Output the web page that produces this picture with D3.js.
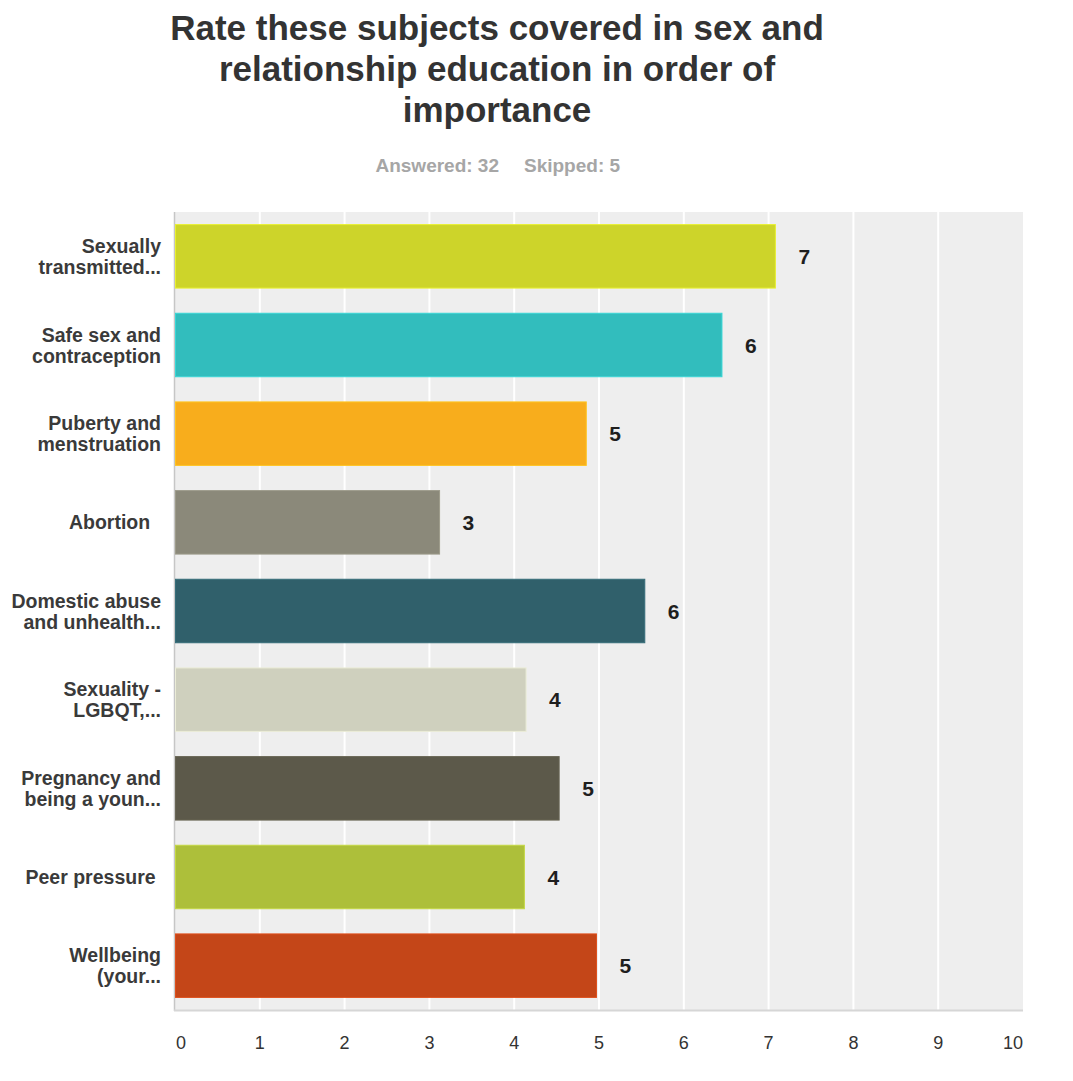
<!DOCTYPE html>
<html>
<head>
<meta charset="utf-8">
<script src="https://cdn.jsdelivr.net/npm/d3@7/dist/d3.min.js"></script>
<style>
  html, body { margin: 0; padding: 0; background: #fff; }
  svg { display: block; font-family: "Liberation Sans", Arial, sans-serif; }
  text { white-space: pre; }
</style>
</head>
<body>
<svg id="chart" width="1073" height="1081"></svg>
<script>
// Survey subjects, each split into the lines of its axis label
const categories = [
  ["Sexually", "transmitted..."],
  ["Safe sex and", "contraception"],
  ["Puberty and", "menstruation"],
  ["Abortion  "],
  ["Domestic abuse", "and unhealth..."],
  ["Sexuality -", "LGBQT,..."],
  ["Pregnancy and", "being a youn..."],
  ["Peer pressure "],
  ["Wellbeing", "(your..."]
];

// Average ranking score per subject
const scores = [7.08, 6.45, 4.85, 3.12, 5.54, 4.14, 4.53, 4.12, 4.97];

// One colour per subject
const barColors = ["#cdd42a", "#32bdbd", "#f8ad1c", "#8b897a", "#30606b",
                   "#cfd0be", "#5c594a", "#adbf3a", "#c44618"];

// Axis tick values
const tickValues = [0, 1, 2, 3, 4, 5, 6, 7, 8, 9, 10];

const titleLines = [
  "Rate these subjects covered in sex and",
  "relationship education in order of",
  "importance"
];
const answered = "Answered: 32";
const skipped = "Skipped: 5";

const svg = d3.select("#chart");

const plot = { left: 175, right: 1023, top: 212, bottom: 1010 };

const x = d3.scaleLinear().domain([0, 10]).range([plot.left, plot.right]);
const y = d3.scaleBand()
  .domain(d3.range(categories.length))
  .range([plot.top, plot.bottom])
  .paddingInner(0.284)
  .paddingOuter(0.142);

// Title
const cx = 497;
svg.append("g")
  .selectAll("text")
  .data(titleLines)
  .join("text")
  .attr("x", cx)
  .attr("y", (d, i) => 40 + i * 41)
  .attr("text-anchor", "middle")
  .attr("font-size", 35)
  .attr("font-weight", "bold")
  .attr("fill", "#333333")
  .text(d => d);

// Response counts
const counts = svg.append("g")
  .attr("font-size", 19)
  .attr("font-weight", "bold")
  .attr("fill", "#a6a6a6");
counts.append("text").attr("x", 499).attr("y", 172).attr("text-anchor", "end").text(answered);
counts.append("text").attr("x", 524).attr("y", 172).attr("text-anchor", "start").text(skipped);

// Plot background
svg.append("rect")
  .attr("x", plot.left)
  .attr("y", plot.top)
  .attr("width", plot.right - plot.left)
  .attr("height", plot.bottom - plot.top)
  .attr("fill", "#eeeeee");

// Vertical gridlines
svg.append("g")
  .selectAll("line")
  .data(tickValues.filter(v => v > 0 && v < 10))
  .join("line")
  .attr("x1", d => x(d))
  .attr("x2", d => x(d))
  .attr("y1", plot.top)
  .attr("y2", plot.bottom)
  .attr("stroke", "#ffffff")
  .attr("stroke-width", 2);

// Left and bottom borders of the plot
svg.append("line")
  .attr("x1", plot.left - 0.5).attr("x2", plot.left - 0.5)
  .attr("y1", plot.top).attr("y2", plot.bottom + 1)
  .attr("stroke", "#c6c6c6").attr("stroke-width", 1.5);
svg.append("line")
  .attr("x1", plot.left - 1).attr("x2", plot.right)
  .attr("y1", plot.bottom + 0.5).attr("y2", plot.bottom + 0.5)
  .attr("stroke", "#d6d6d6").attr("stroke-width", 2);

// Bars
svg.append("g")
  .selectAll("rect")
  .data(scores)
  .join("rect")
  .attr("x", x(0) + 0.5)
  .attr("y", (d, i) => y(i))
  .attr("width", d => x(d) - x(0) - 0.5)
  .attr("height", y.bandwidth())
  .attr("fill", (d, i) => barColors[i])
  .attr("stroke", (d, i) => d3.color(barColors[i]).brighter(0.35))
  .attr("stroke-width", 1);

// Value labels
svg.append("g")
  .selectAll("text")
  .data(scores)
  .join("text")
  .attr("x", d => x(d) + 23)
  .attr("y", (d, i) => y(i) + y.bandwidth() / 2 + 7.5)
  .attr("font-size", 21)
  .attr("font-weight", "bold")
  .attr("fill", "#1e1e1e")
  .text(d => d3.format(".0f")(d));

// Category labels
const catG = svg.append("g")
  .attr("font-size", 19.5)
  .attr("font-weight", "bold")
  .attr("fill", "#3a3a3a")
  .attr("text-anchor", "end");
categories.forEach((lines, i) => {
  const mid = y(i) + y.bandwidth() / 2;
  const lh = 21;
  const first = mid - (lines.length - 1) * lh / 2 + 7;
  lines.forEach((line, j) => {
    catG.append("text")
      .attr("x", 161)
      .attr("y", first + j * lh)
      .text(line);
  });
});

// X axis tick labels
svg.append("g")
  .selectAll("text")
  .data(tickValues)
  .join("text")
  .attr("x", d => d === 0 ? x(d) + 1 : x(d))
  .attr("y", 1049)
  .attr("text-anchor", d => d === 0 ? "start" : d === 10 ? "end" : "middle")
  .attr("font-size", 18)
  .attr("fill", "#333333")
  .text(d => d);
</script>
</body>
</html>
